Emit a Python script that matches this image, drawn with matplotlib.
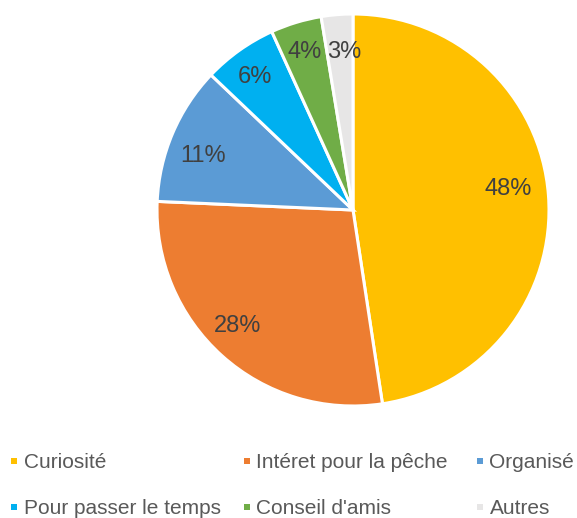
import matplotlib.pyplot as plt
from matplotlib.patches import Rectangle

plt.rcParams['font.family'] = ['Liberation Sans', 'DejaVu Sans']

categories = ['Curiosité', 'Intéret pour la pêche', 'Organisé',
              'Pour passer le temps', "Conseil d'amis", 'Autres']
values = [47.6, 28.1, 11.4, 6.1, 4.2, 2.6]
colors = ['#FFC000', '#ED7D31', '#5B9BD5', '#00B0F0', '#70AD47', '#E7E6E6']

W, H = 577, 518
fig = plt.figure(figsize=(W / 100, H / 100), dpi=100)

# pie axes: centre (353, 210), radius 196 px
cx, cy, r = 353, 210, 196
ax = fig.add_axes([(cx - r) / W, (H - cy - r) / H, 2 * r / W, 2 * r / H])
wedges, texts, autotexts = ax.pie(
    values, colors=colors, startangle=90, counterclock=False,
    autopct='%1.0f%%', pctdistance=0.8,
    wedgeprops=dict(edgecolor='white', linewidth=2.2),
    textprops=dict(color='#404040', fontsize=17))

# Excel "best fit" label placement: radial distance + small nudge (px)
label_dist = [0.8, 0.81, 0.815, 0.86, 0.87, 0.83]
label_nudge = [(-1, 8.7), (-9, 1.7), (-3, -9), (0, -4), (1, -4.7), (4, -3.7)]
for t, d, (nx, ny) in zip(autotexts, label_dist, label_nudge):
    x, y = t.get_position()
    t.set_position((x / 0.8 * d + nx / r, y / 0.8 * d + ny / r))

ax.set_xlim(-1, 1)
ax.set_ylim(-1, 1)
ax.set_aspect('equal')
ax.axis('off')

# legend, 3 columns x 2 rows, laid out like the original
col_x = [11, 244, 477]
row_y = [463, 509]
for i, (name, c) in enumerate(zip(categories, colors)):
    x = col_x[i % 3]
    y = row_y[i // 3]
    fig.patches.append(Rectangle((x / W, (H - y - 1) / H), 6 / W, 6 / H,
                                 transform=fig.transFigure, facecolor=c,
                                 edgecolor='none'))
    fig.text((x + 12.5) / W, (H - y) / H, name, ha='left', va='center',
             fontsize=15, color='#595959')

fig.savefig('out.png', dpi=100)
